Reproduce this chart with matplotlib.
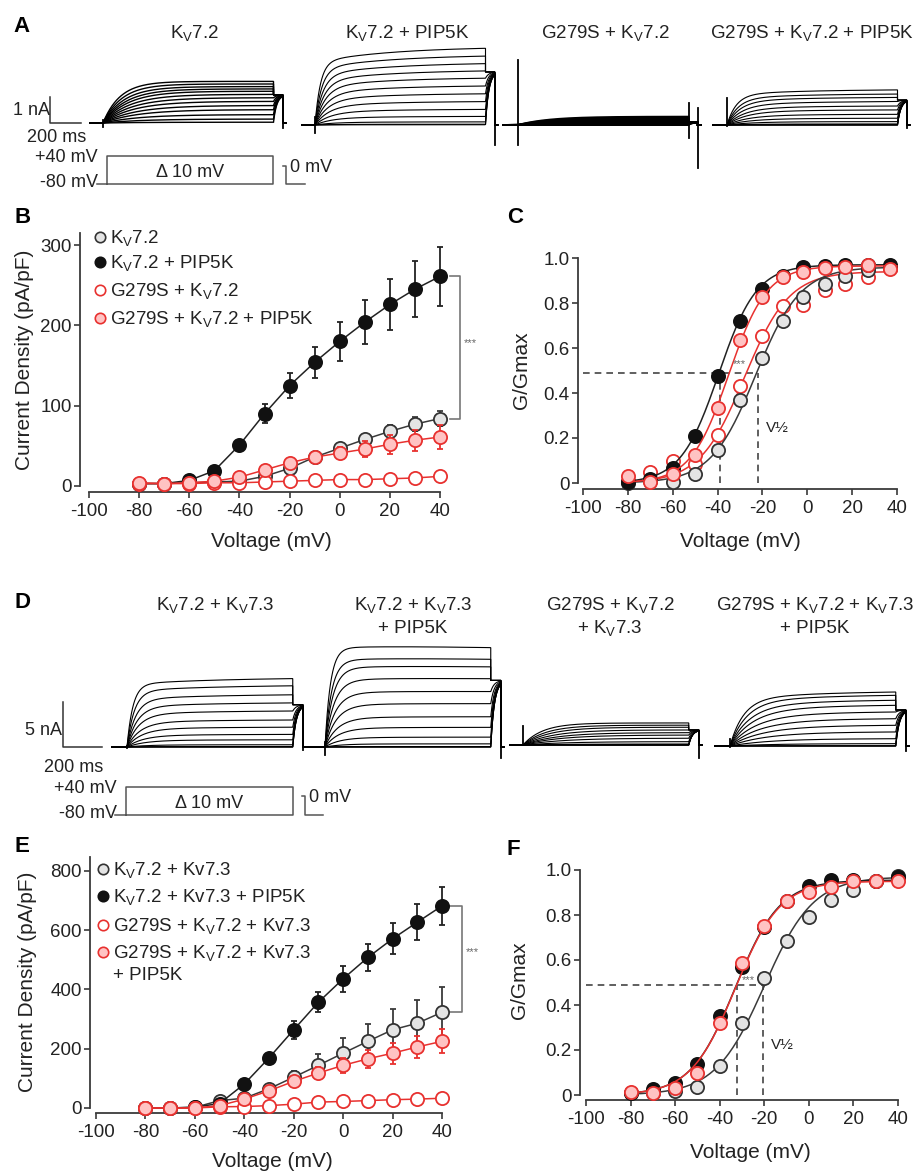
import numpy as np
import matplotlib
matplotlib.use("Agg")
import matplotlib.pyplot as plt

plt.rcParams['font.family'] = ['Liberation Sans', 'DejaVu Sans']
plt.rcParams['mathtext.fontset'] = 'custom'
plt.rcParams['mathtext.rm'] = 'Liberation Sans'
plt.rcParams['mathtext.it'] = 'Liberation Sans:italic'
plt.rcParams['mathtext.bf'] = 'Liberation Sans:bold'
plt.rcParams['axes.unicode_minus'] = False

W, H = 916, 1171
INK = '#222222'
AXC = '#3a3a3a'
RED = '#e8312f'
PINK = '#ffc3c3'
LGRAY = '#e4e4e4'
KV = r'K$_\mathregular{V}$'

# ---------------- data ----------------
volt = np.arange(-80, 41, 10)
volt_c = [-80, -70, -60, -50, -40, -30, -20, -11, -2, 8, 17, 27, 37]

# B: current density (pA/pF)
b_wt = [3, 3, 4, 5, 6, 12, 22, 36, 47, 58, 68, 77, 84]
b_wt_err = [1, 1, 1, 1, 2, 3, 4, 5, 6, 7, 8, 9, 9]
b_pip = [3, 3, 7, 19, 51, 90, 125, 154, 180, 204, 226, 245, 261]
b_pip_err = [1, 1, 2, 3, 4, 12, 16, 19, 24, 27, 32, 35, 37]
b_g = [3, 3, 3, 4, 4, 5, 6, 7, 8, 8, 9, 10, 12]
b_g_err = [1, 1, 1, 1, 1, 1, 1, 1, 1, 2, 2, 2, 2]
b_gpip = [4, 3, 4, 6, 11, 20, 29, 36, 41, 46, 52, 57, 61]
b_gpip_err = [1, 1, 1, 2, 3, 4, 5, 6, 8, 10, 12, 13, 15]

# C: G/Gmax
c_wt = [0.0, 0.01, 0.005, 0.04, 0.148, 0.367, 0.556, 0.718, 0.827, 0.884, 0.92, 0.948, 0.96]
c_pip = [0.005, 0.02, 0.065, 0.21, 0.477, 0.72, 0.864, 0.92, 0.96, 0.966, 0.97, 0.968, 0.97]
c_g = [0.01, 0.05, 0.10, 0.085, 0.215, 0.43, 0.655, 0.785, 0.79, 0.86, 0.884, 0.915, 0.955]
c_gpip = [0.03, 0.005, 0.04, 0.123, 0.333, 0.637, 0.827, 0.915, 0.94, 0.955, 0.96, 0.967, 0.95]
# Boltzmann fits (V1/2, k, Gmax)
c_fit = {'wt': (-23, 10, 0.96), 'g': (-28, 10, 0.94), 'pip': (-39.5, 8.5, 0.97), 'gpip': (-35, 8.5, 0.965)}
c_v12 = [-38.9, -21.8]

# E: current density (pA/pF)
e_wt = [0, 0, 2, 25, 33, 65, 104, 144, 185, 225, 264, 286, 323]
e_wt_err = [1, 1, 2, 5, 8, 12, 20, 38, 50, 60, 70, 79, 87]
e_pip = [0, 0, 3, 15, 81, 169, 264, 357, 436, 508, 571, 627, 682]
e_pip_err = [1, 1, 2, 4, 8, 15, 31, 34, 44, 45, 53, 60, 63]
e_g = [0, 0, 0, 4, 5, 8, 13, 20, 22, 25, 28, 30, 33]
e_g_err = [1, 1, 1, 1, 1, 2, 2, 3, 3, 3, 3, 3, 3]
e_gpip = [0, 0, 0, 8, 30, 58, 90, 118, 144, 166, 185, 206, 225]
e_gpip_err = [1, 1, 1, 3, 6, 10, 15, 20, 25, 30, 35, 37, 40]

# F: G/Gmax
f_wt = [0.01, 0.01, 0.02, 0.037, 0.13, 0.32, 0.52, 0.684, 0.793, 0.867, 0.91, 0.95, 0.975]
f_pip = [0.01, 0.025, 0.055, 0.14, 0.35, 0.57, 0.748, 0.862, 0.929, 0.955, 0.955, 0.95, 0.97]
f_gpip = [0.015, 0.01, 0.03, 0.1, 0.32, 0.585, 0.753, 0.862, 0.904, 0.923, 0.95, 0.95, 0.95]
f_fit = {'wt': (-20, 11, 0.97), 'pip': (-33, 10, 0.955), 'gpip': (-33, 10, 0.95)}
f_v12 = [-32.3, -20.6]

# current trace amplitudes at end of step (nA), one per step -80..+40 (largest first)
amp_a_wt = [1.60, 1.50, 1.40, 1.31, 1.22, 1.10, 0.97, 0.83, 0.67, 0.51, 0.32, 0.15, 0.03]
amp_a_pip = [2.95, 2.65, 2.36, 2.08, 1.80, 1.50, 1.20, 0.90, 0.60, 0.33, 0.12, 0.03, 0.01]
amp_a_g = [0.32, 0.29, 0.26, 0.23, 0.20, 0.17, 0.14, 0.11, 0.08, 0.05, 0.03, 0.01, 0.0]
amp_a_gpip = [1.35, 1.19, 1.06, 0.90, 0.73, 0.58, 0.41, 0.26, 0.13, 0.04, 0.01, 0.0, 0.0]
amp_d_wt = [7.6, 6.8, 5.8, 4.9, 4.0, 3.0, 2.2, 1.4, 0.8, 0.25, 0.05, 0.0, 0.0]
amp_d_pip = [11.5, 10.1, 9.2, 7.8, 6.3, 4.9, 3.4, 2.2, 1.1, 0.35, 0.05, 0.0, 0.0]
amp_d_g = [2.45, 2.2, 1.97, 1.67, 1.37, 1.1, 0.75, 0.37, 0.11, 0.02, 0.0, 0.0, 0.0]
amp_d_gpip = [6.0, 5.63, 5.08, 4.52, 3.78, 3.03, 2.3, 1.56, 0.81, 0.26, 0.03, 0.0, 0.0]
tail_a = [1.08, 2.04, 0.1, 0.96]
tail_d = [4.7, 7.4, 1.67, 4.0]

titles_a = [[KV + '7.2'], [KV + '7.2 + PIP5K'], ['G279S + ' + KV + '7.2'],
            ['G279S + ' + KV + '7.2 + PIP5K']]
titles_d = [[KV + '7.2 + ' + KV + '7.3'], [KV + '7.2 + ' + KV + '7.3', '+ PIP5K'],
            ['G279S + ' + KV + '7.2', '+ ' + KV + '7.3'],
            ['G279S + ' + KV + '7.2 + ' + KV + '7.3', '+ PIP5K']]

styles = {
    'wt': dict(mfc=LGRAY, mec='#333333', color='#3a3a3a'),
    'pip': dict(mfc='#111111', mec='#111111', color='#222222'),
    'g': dict(mfc='white', mec=RED, color=RED),
    'gpip': dict(mfc=PINK, mec=RED, color=RED),
}

fig = plt.figure(figsize=(W / 100, H / 100), dpi=100)
ov = fig.add_axes([0, 0, 1, 1])
ov.set_xlim(0, W)
ov.set_ylim(H, 0)
ov.axis('off')


def px_axes(left, top, right, bottom):
    return fig.add_axes([left / W, 1 - bottom / H, (right - left) / W, (bottom - top) / H])


def style_axes(ax, loff, boff, ytop, yticks, ylabels):
    for s in ['top', 'right']:
        ax.spines[s].set_visible(False)
    ax.spines['left'].set_position(('outward', loff * 0.72))
    ax.spines['bottom'].set_position(('outward', boff * 0.72))
    ax.spines['left'].set_bounds(0, ytop)
    ax.spines['bottom'].set_bounds(-100, 40)
    for s in ['left', 'bottom']:
        ax.spines[s].set_color(AXC)
        ax.spines[s].set_linewidth(1.3)
    ax.set_xlim(-100, 40)
    ax.set_ylim(0, ytop)
    ax.set_xticks(range(-100, 41, 20))
    ax.set_yticks(yticks)
    ax.set_yticklabels(ylabels)
    ax.tick_params(direction='out', length=4.5, width=1.2, color=AXC, labelsize=13.5, labelcolor=INK)
    ax.tick_params(axis='y', pad=1.5)
    ax.tick_params(axis='x', pad=3.5)
    ax.patch.set_alpha(0)


def iv(ax, y, err, key, z):
    st = styles[key]
    cont = ax.errorbar(volt, y, yerr=err, fmt='-o', ms=9.5, mew=1.3, lw=1.1, elinewidth=1.3,
                       capsize=2.5, capthick=1.3, ecolor=st['color'], color=st['color'],
                       mfc=st['mfc'], mec=st['mec'], zorder=z)
    for art in cont.get_children():
        art.set_clip_on(False)


def boltz(v, v12, k, gmax):
    return gmax / (1 + np.exp((v12 - v) / k))


def gv(ax, vv, y, fit, key, z):
    st = styles[key]
    vf = np.linspace(-80, 40, 200)
    ax.plot(vf, boltz(vf, *fit), color=st['color'], lw=1.1, zorder=z, clip_on=False)
    ax.plot(vv, y, 'o', ms=9.5, mew=1.3, mfc=st['mfc'], mec=st['mec'], zorder=z + 0.5, clip_on=False)


# ---------------- B ----------------
axb = px_axes(89, 233, 440, 486)
style_axes(axb, 9, 6, 315, [0, 100, 200, 300], ['0', '100', '200', '300'])
iv(axb, b_wt, b_wt_err, 'wt', 3)
iv(axb, b_pip, b_pip_err, 'pip', 4)
iv(axb, b_g, b_g_err, 'g', 5)
iv(axb, b_gpip, b_gpip_err, 'gpip', 6)
axb.plot([44, 48, 48, 44], [b_pip[-1], b_pip[-1], b_wt[-1], b_wt[-1]], color='#777777', lw=1.2, clip_on=False)
axb.text(49.5, 178, '***', fontsize=8, color='#666666', va='center', ha='left', clip_on=False)

# ---------------- C ----------------
axc = px_axes(583, 258, 897, 483)
style_axes(axc, 5, 6, 1.0, [0, 0.2, 0.4, 0.6, 0.8, 1.0], ['0', '0.2', '0.4', '0.6', '0.8', '1.0'])
axc.plot([-100, c_v12[1]], [0.49, 0.49], color='#444444', lw=1.2, ls=(0, (4, 3)), zorder=1)
for v in c_v12:
    axc.plot([v, v], [0, 0.49], color='#444444', lw=1.2, ls=(0, (4, 3)), zorder=1)
gv(axc, volt_c, c_g, c_fit['g'], 'g', 3)
gv(axc, volt_c, c_wt, c_fit['wt'], 'wt', 4)
gv(axc, volt_c, c_pip, c_fit['pip'], 'pip', 5)
gv(axc, volt_c, c_gpip, c_fit['gpip'], 'gpip', 6)
axc.text(-30.3, 0.53, '***', fontsize=8, color='#666666', ha='center', va='center', zorder=7)
axc.text(-18.5, 0.245, 'V½', fontsize=11, color=INK, ha='left', va='center')

# ---------------- E ----------------
axe = px_axes(96, 857, 442, 1108)
style_axes(axe, 6, 5, 847, [0, 200, 400, 600, 800], ['0', '200', '400', '600', '800'])
iv(axe, e_wt, e_wt_err, 'wt', 3)
iv(axe, e_pip, e_pip_err, 'pip', 4)
iv(axe, e_g, e_g_err, 'g', 5)
iv(axe, e_gpip, e_gpip_err, 'gpip', 6)
axe.plot([42.5, 48, 48, 42.5], [e_pip[-1], e_pip[-1], e_wt[-1], e_wt[-1]], color='#777777', lw=1.2, clip_on=False)
axe.text(49.5, 525, '***', fontsize=8, color='#666666', va='center', ha='left', clip_on=False)

# ---------------- F ----------------
axf = px_axes(586, 870, 898, 1095)
style_axes(axf, 6, 5, 1.0, [0, 0.2, 0.4, 0.6, 0.8, 1.0], ['0', '0.2', '0.4', '0.6', '0.8', '1.0'])
axf.plot([-100, f_v12[1]], [0.49, 0.49], color='#444444', lw=1.2, ls=(0, (4, 3)), zorder=1)
for v in f_v12:
    axf.plot([v, v], [0, 0.49], color='#444444', lw=1.2, ls=(0, (4, 3)), zorder=1)
gv(axf, volt, f_wt, f_fit['wt'], 'wt', 3)
gv(axf, volt, f_pip, f_fit['pip'], 'pip', 4)
gv(axf, volt, f_gpip, f_fit['gpip'], 'gpip', 5)
axf.text(-27, 0.51, '***', fontsize=8, color='#666666', ha='center', va='center', zorder=7)
axf.text(-17, 0.222, 'V½', fontsize=11, color=INK, ha='left', va='center')

# axis labels
for x, y in [(271, 547), (740, 547), (272, 1167), (750, 1158)]:
    ov.text(x, y, 'Voltage (mV)', fontsize=15, color=INK, ha='center', va='baseline')
for x, y, s in [(25, 360, 'Current Density (pA/pF)'), (522, 370, 'G/Gmax'),
                (28, 982, 'Current Density (pA/pF)'), (520, 980, 'G/Gmax')]:
    fig.text(x / W, 1 - y / H, s, fontsize=15, color=INK, ha='center', va='center', rotation=90)

# legends
leg_b = [(KV + '7.2', 'wt'), (KV + '7.2 + PIP5K', 'pip'), ('G279S + ' + KV + '7.2', 'g'),
         ('G279S + ' + KV + '7.2 + PIP5K', 'gpip')]
for (lab, key), y in zip(leg_b, [237, 262, 290, 318]):
    st = styles[key]
    ov.plot(100, y, 'o', ms=7.5, mew=1.2, mfc=st['mfc'], mec=st['mec'])
    ov.text(110, y + 6, lab, fontsize=13.5, color=INK, ha='left', va='baseline')
leg_e = [(KV + '7.2 + Kv7.3', 'wt'), (KV + '7.2 + Kv7.3 + PIP5K', 'pip'),
         ('G279S + ' + KV + '7.2 + Kv7.3', 'g'), ('G279S + ' + KV + '7.2 + Kv7.3', 'gpip')]
for (lab, key), y in zip(leg_e, [869, 896, 925, 952]):
    st = styles[key]
    ov.plot(103, y, 'o', ms=7.5, mew=1.2, mfc=st['mfc'], mec=st['mec'])
    ov.text(113, y + 6, lab, fontsize=13.5, color=INK, ha='left', va='baseline')
ov.text(113, 980, '+ PIP5K', fontsize=13.5, color=INK, ha='left', va='baseline')

# panel letters
for s, x, y in [('A', 13, 32), ('B', 15, 223), ('C', 507, 223), ('D', 15, 608), ('E', 15, 852), ('F', 507, 855)]:
    ov.text(x, y, s, fontsize=16, fontweight='bold', color='black', ha='left', va='baseline')


# ---------------- current traces ----------------
def traces(x_base, x_on, y0, amps, tail_nA, px_ms, px_nA, step_ms, tail_ms,
           tau_top, tau_bot, w_fast=1.0, tau_slow=500.0, droop=0.0, lw=0.8, arts=()):
    amps = np.asarray(amps, dtype=float)
    taus = np.linspace(tau_top, tau_bot, len(amps))
    t = np.linspace(0, step_ms, 300)
    tt = np.linspace(0, tail_ms, 30)
    amax = amps.max()
    x_end = x_on + step_ms * px_ms
    x_tail = x_end + tail_ms * px_ms
    for a, tau in zip(amps, taus):
        rise = w_fast * (1 - np.exp(-t / tau)) + (1 - w_fast) * (1 - np.exp(-t / tau_slow))
        rise = rise / rise[-1]
        i_step = a * rise * (1 - droop * (a / amax) * (t / step_ms))
        start = min(i_step[-1], tail_nA)
        i_tail = tail_nA + (start - tail_nA) * np.exp(-tt / (tail_ms * 0.35))
        xs = np.concatenate([[x_base], x_on + t * px_ms, x_end + tt * px_ms, [x_tail, x_tail + 3]])
        ys = np.concatenate([[y0], y0 - i_step * px_nA, y0 - i_tail * px_nA, [y0, y0]])
        ov.plot(xs, ys, color='black', lw=lw, solid_joinstyle='miter')
    for tm, up, down in arts:
        xa = x_on + tm * px_ms
        ov.plot([xa, xa], [y0 - up * px_nA, y0 + down * px_nA], color='black', lw=1.3)


# panel A: 26 px per nA, 0.155 px per ms
PXA, NA_A, STEP_A, TAIL_A = 0.155, 26, 1100, 60
traces(90, 103, 123, amp_a_wt, tail_a[0], PXA, NA_A, STEP_A, TAIL_A, 110, 260, lw=1.0,
       arts=[(0, 0.1, 0.15), (STEP_A + TAIL_A, 0.1, 0.2)])
traces(302, 315, 125, amp_a_pip, tail_a[1], PXA, NA_A, STEP_A, TAIL_A, 35, 130, w_fast=0.8,
       arts=[(0, 0.3, 0.3), (STEP_A + TAIL_A, 0.0, 0.77)])
traces(503, 518, 125, amp_a_g, tail_a[2], PXA, NA_A, STEP_A, TAIL_A, 200, 400, lw=1.4,
       arts=[(0, 2.5, 0.77), (STEP_A, 0.85, 0.5), (STEP_A + TAIL_A, 0.65, 1.65)])
traces(713, 727, 125, amp_a_gpip, tail_a[3], PXA, NA_A, STEP_A, TAIL_A, 60, 200, w_fast=0.85,
       arts=[(0, 1.04, 0.05), (STEP_A + TAIL_A, 0.0, 0.12)])

# panel D: 9 px per nA, 0.195 px per ms
PXD, NA_D, STEP_D, TAIL_D = 0.195, 9, 850, 52
traces(112, 127, 747, amp_d_wt, tail_d[0], PXD, NA_D, STEP_D, TAIL_D, 30, 120, w_fast=0.9,
       arts=[(0, 0.1, 0.1), (STEP_D + TAIL_D, 0.0, 0.3)])
traces(308, 325, 747, amp_d_pip, tail_d[1], PXD, NA_D, STEP_D, TAIL_D, 28, 100, w_fast=0.95, droop=0.04,
       arts=[(0, 0.55, 0.9), (STEP_D + TAIL_D, 0.0, 1.2)])
traces(510, 523, 745, amp_d_g, tail_d[2], PXD, NA_D, STEP_D, TAIL_D, 100, 300,
       arts=[(0, 2.1, 0.0), (STEP_D + TAIL_D, 1.45, 1.45)])
traces(715, 730, 746, amp_d_gpip, tail_d[3], PXD, NA_D, STEP_D, TAIL_D, 70, 250, w_fast=0.85,
       arts=[(0, 0.8, 0.1), (STEP_D + TAIL_D, 0.0, 0.5)])

# scale bars
SB = '#333333'
ov.plot([50, 50, 50 + 200 * PXA], [123 - 1 * NA_A, 123, 123], color=SB, lw=1.1)
ov.text(50, 115, '1 nA', fontsize=13, color=INK, ha='right', va='baseline')
ov.text(57, 142, '200 ms', fontsize=13, color=INK, ha='center', va='baseline')
ov.plot([63, 63, 63 + 200 * PXD], [747 - 5 * NA_D, 747, 747], color=SB, lw=1.1)
ov.text(62, 735, '5 nA', fontsize=13, color=INK, ha='right', va='baseline')
ov.text(74, 772, '200 ms', fontsize=13, color=INK, ha='center', va='baseline')

# voltage protocols
PC = '#555555'
for (xb, xs, xe, xt, xf, ytop, y0m, ybot) in [(97, 107, 273, 286, 305, 156, 166, 184),
                                              (115, 126, 293, 305, 323, 787, 796, 815)]:
    ov.plot([xb, xs], [ybot, ybot], color=PC, lw=1.1)
    ov.plot([xs, xs, xe, xe, xs], [ybot, ytop, ytop, ybot, ybot], color=PC, lw=1.1)
    ov.plot([xt - 3, xt, xt, xf], [y0m, y0m, ybot, ybot], color=PC, lw=1.1)
    ov.text(xs - 9, ytop + 6, '+40 mV', fontsize=13, color=INK, ha='right', va='baseline')
    ov.text(xs - 9, ybot + 3, '-80 mV', fontsize=13, color=INK, ha='right', va='baseline')
    ov.text((xs + xe) / 2, ytop + 21, 'Δ 10 mV', fontsize=13, color=INK, ha='center', va='baseline')
    ov.text(xt + 4, y0m + 6, '0 mV', fontsize=13, color=INK, ha='left', va='baseline')

# trace titles
for lines, x in zip(titles_a, [195, 407, 605, 812]):
    for i, s in enumerate(lines):
        ov.text(x, 38 + 23 * i, s, fontsize=13.5, color=INK, ha='center', va='baseline')
for lines, x in zip(titles_d, [215, 413, 610, 815]):
    for i, s in enumerate(lines):
        ov.text(x, 610 + 23 * i, s, fontsize=13.5, color=INK, ha='center', va='baseline')

fig.savefig('out.png', dpi=100)
